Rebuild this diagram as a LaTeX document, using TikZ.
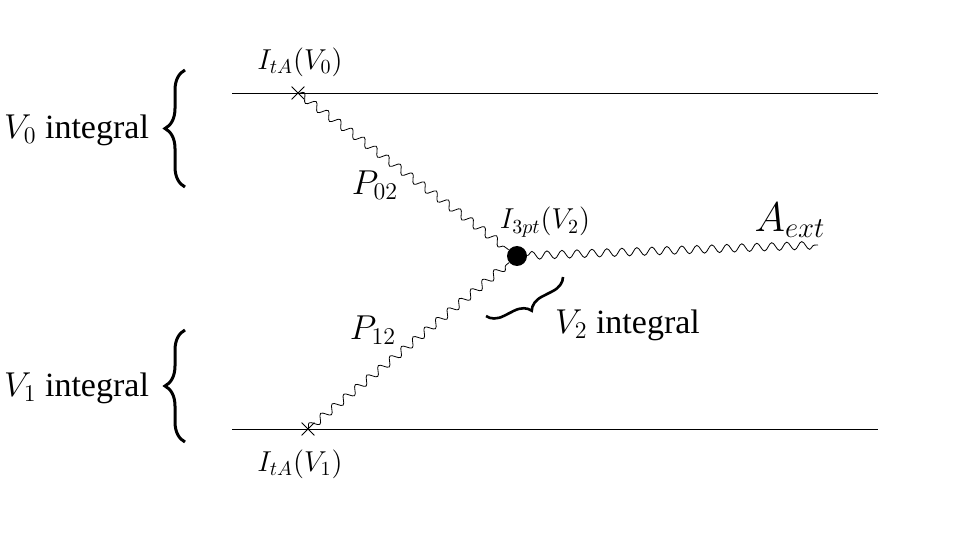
\documentclass[tikz,border=0pt]{standalone}
\usepackage{fontspec}
\setmainfont{Liberation Serif}
\usetikzlibrary{decorations.pathmorphing,decorations.pathreplacing,shapes.misc}
\newcommand{\labsize}{\fontsize{14}{17}\selectfont}
\newcommand{\bigsize}{\fontsize{17}{21}\selectfont}
\tikzset{
  photon/.style={decorate, decoration={snake, amplitude=2pt, segment length=7.5pt}},
  bigbrace/.style={decorate, decoration={brace, amplitude=10pt}, line width=1.5pt},
  crossmark/.style={draw, cross out, minimum size=6pt, inner sep=0pt}
}
\begin{document}
\begin{tikzpicture}[x=0.5pt,y=-0.5pt]
\useasboundingbox (0,0) rectangle (960,540);
% lines of the two sources
\coordinate (L0) at (232,93);
\coordinate (R0) at (878,93);
\coordinate (L1) at (232,429);
\coordinate (R1) at (878,429);
\draw (L0) -- (R0);
\draw (L1) -- (R1);
\node[crossmark] (X0) at (298,93) {};
\node[crossmark] (X1) at (308,429) {};
% vertex
\node[circle, fill, minimum size=10pt, inner sep=0pt] (V) at (517,256) {};
\coordinate (A) at (818,245);
\draw[photon] (X0.center) -- (V);
\draw[photon] (X1.center) -- (V);
\draw[photon] (V) -- (A);
% labels
\node (l0) at (300,62) {\labsize $I_{tA}(V_0)$};
\node (l1) at (300,464) {\labsize $I_{tA}(V_1)$};
\node (p02) at (375,185) {\bigsize $P_{02}$};
\node (p12) at (373,330) {\bigsize $P_{12}$};
\node (i3) at (545,222) {\labsize $I_{3pt}(V_2)$};
\node (ae) at (790,220) {\fontsize{20}{24}\selectfont $A_{ext}$};
% braces
\draw[bigbrace] (185,187) -- (185,70);
\draw[bigbrace] (185,442) -- (185,330);
\draw[bigbrace, decoration={amplitude=8pt}, line width=1.3pt] (563,277) -- (486,316);
\node[anchor=east] (t0) at (156,130) {\bigsize $V_0$ integral};
\node[anchor=east] (t1) at (156,388) {\bigsize $V_1$ integral};
\node[anchor=west] (t2) at (548,325) {\bigsize $V_2$ integral};
\end{tikzpicture}
\end{document}
